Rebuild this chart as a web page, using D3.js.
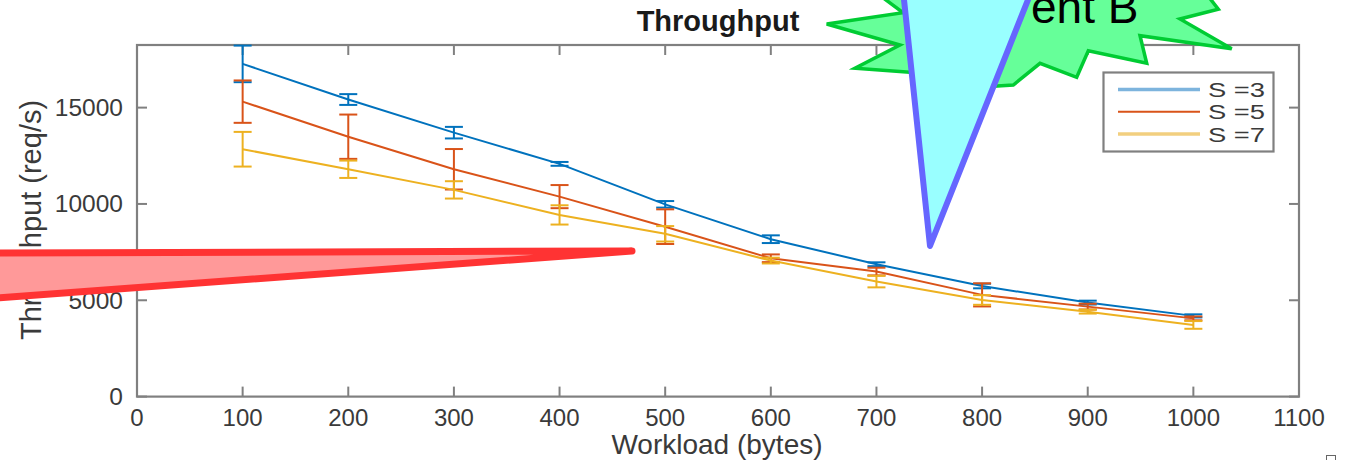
<!DOCTYPE html>
<html lang="en">
<head>
<meta charset="UTF-8">
<title>Throughput</title>
<script src="https://d3js.org/d3.v7.min.js"></script>
<style>
    body { margin: 0; background: #fff; }
    svg { display: block; font-family: "Liberation Sans", Arial, sans-serif; }
</style>
</head>
<body>
<div id="chart"></div>
<script>
    // data
    const workload = [100, 200, 300, 400, 500, 600, 700, 800, 900, 1000];
    const s3 = [17270, 15420, 13700, 12080, 9980, 8170, 6870, 5740, 4880, 4190];
    const s3err = [950, 280, 300, 100, 170, 200, 100, 120, 100, 80];
    const s5 = [15310, 13490, 11800, 10380, 8820, 7180, 6490, 5280, 4670, 4060];
    const s5err = [1100, 1150, 1050, 600, 900, 200, 200, 600, 150, 100];
    const s7 = [12840, 11800, 10730, 9430, 8450, 7060, 5970, 5015, 4410, 3720];
    const s7err = [900, 450, 450, 500, 400, 150, 300, 250, 100, 200];
    const seriesNames = ["S =3", "S =5", "S =7"];
    const xTicks = d3.range(0, 1101, 100);
    const yTicks = [0, 5000, 10000, 15000];

    const W = 1347, H = 460;
    const box = { left: 137, right: 1299, top: 45, bottom: 396.6 };

    const svg = d3.select("#chart").append("svg")
        .attr("width", W).attr("height", H);

    const x = d3.scaleLinear().domain([0, 1100]).range([box.left, box.right]);
    const y = d3.scaleLinear().domain([0, 18250]).range([box.bottom, box.top]);

    const axisColor = "#808080";
    const tickLen = 10;

    // axes box
    svg.append("rect")
        .attr("x", box.left).attr("y", box.top)
        .attr("width", box.right - box.left).attr("height", box.bottom - box.top)
        .attr("fill", "none").attr("stroke", axisColor).attr("stroke-width", 2.2);

    // bottom + top ticks
    const xt = svg.append("g");
    xTicks.forEach(t => {
        xt.append("line").attr("x1", x(t)).attr("x2", x(t))
            .attr("y1", box.bottom).attr("y2", box.bottom - tickLen)
            .attr("stroke", axisColor).attr("stroke-width", 2);
        xt.append("line").attr("x1", x(t)).attr("x2", x(t))
            .attr("y1", box.top).attr("y2", box.top + tickLen)
            .attr("stroke", axisColor).attr("stroke-width", 2);
        xt.append("text").attr("x", x(t)).attr("y", 426)
            .attr("text-anchor", "middle").attr("font-size", 24)
            .attr("fill", "#3a3a3a").text(t);
    });

    // left + right ticks
    const yt = svg.append("g");
    yTicks.forEach(t => {
        yt.append("line").attr("x1", box.left).attr("x2", box.left + tickLen)
            .attr("y1", y(t)).attr("y2", y(t))
            .attr("stroke", axisColor).attr("stroke-width", 2);
        yt.append("line").attr("x1", box.right).attr("x2", box.right - tickLen)
            .attr("y1", y(t)).attr("y2", y(t))
            .attr("stroke", axisColor).attr("stroke-width", 2);
        yt.append("text").attr("x", box.left - 14).attr("y", y(t) + 8.5)
            .attr("text-anchor", "end").attr("font-size", 24.5)
            .attr("fill", "#3a3a3a").text(t);
    });

    // title and axis labels
    svg.append("text").attr("x", 718).attr("y", 31)
        .attr("text-anchor", "middle").attr("font-size", 29).attr("font-weight", "bold")
        .attr("fill", "#1a1a1a").text("Throughput");
    svg.append("text").attr("x", 717).attr("y", 454)
        .attr("text-anchor", "middle").attr("font-size", 28)
        .attr("fill", "#3a3a3a").text("Workload (bytes)");
    svg.append("text")
        .attr("transform", "translate(41,220) rotate(-90)")
        .attr("text-anchor", "middle").attr("font-size", 29)
        .attr("fill", "#3a3a3a").text("Throughput (req/s)");

    // series
    const colors = ["#0072BD", "#D95319", "#EDB120"];
    const series = [
        { name: seriesNames[0], vals: s3, err: s3err, color: colors[0] },
        { name: seriesNames[1], vals: s5, err: s5err, color: colors[1] },
        { name: seriesNames[2], vals: s7, err: s7err, color: colors[2] }
    ];

    const line = d3.line().x(d => x(d[0])).y(d => y(d[1]));
    const capHalf = 9;

    series.forEach(s => {
        const g = svg.append("g");
        const pts = workload.map((w, i) => [w, s.vals[i]]);
        g.append("path").datum(pts)
            .attr("fill", "none").attr("stroke", s.color).attr("stroke-width", 2)
            .attr("d", line);
        workload.forEach((w, i) => {
            const hi = y(s.vals[i] + s.err[i]), lo = y(s.vals[i] - s.err[i]);
            g.append("line").attr("x1", x(w)).attr("x2", x(w)).attr("y1", hi).attr("y2", lo)
                .attr("stroke", s.color).attr("stroke-width", 2);
            [hi, lo].forEach(yy => {
                g.append("line").attr("x1", x(w) - capHalf).attr("x2", x(w) + capHalf)
                    .attr("y1", yy).attr("y2", yy)
                    .attr("stroke", s.color).attr("stroke-width", 2);
            });
        });
    });

    // legend
    const lg = svg.append("g");
    lg.append("rect").attr("x", 1103.5).attr("y", 72.5).attr("width", 170).attr("height", 79)
        .attr("fill", "#fff").attr("stroke", axisColor).attr("stroke-width", 2.2);
    const legendStroke = ["#7db4dd", "#D95319", "#f2cf7f"];
    const legendWidth = [3.5, 2, 3.5];
    series.forEach((s, i) => {
        const ly = 89.5 + i * 22.3;
        lg.append("line").attr("x1", 1118).attr("x2", 1200).attr("y1", ly).attr("y2", ly)
            .attr("stroke", legendStroke[i]).attr("stroke-width", legendWidth[i]);
        lg.append("text").attr("x", 1208).attr("y", ly + 7.5)
            .attr("font-size", 20).attr("fill", "#3a3a3a")
            .attr("textLength", 57).attr("lengthAdjust", "spacingAndGlyphs")
            .text(s.name);
    });

    // annotation shapes drawn over the chart
    const wedge = [[632, 251], [-200, 253.5], [-200, 312.5]];
    svg.append("polygon")
        .attr("points", wedge.map(p => p.join(",")).join(" "))
        .attr("fill", "#FF9999").attr("stroke", "#FF3333").attr("stroke-width", 7)
        .attr("stroke-linejoin", "round");

    const burst = [
        [870, -12], [903, 12.7], [826.7, 24], [900, 45], [855, 68.3], [920, 73],
        [965, 88], [1013.3, 85], [1040, 63.3], [1076.7, 77.3], [1088.3, 50.7],
        [1146.7, 63.3], [1140, 35.7], [1231.7, 48.7], [1180, 19], [1218.3, 9.3],
        [1205, -8], [1150, -40], [1000, -45]
    ];
    svg.append("polygon")
        .attr("points", burst.map(p => p.join(",")).join(" "))
        .attr("fill", "#66FF99").attr("stroke", "#00CC33").attr("stroke-width", 3.5)
        .attr("stroke-linejoin", "miter");
    svg.append("text").attr("x", 1031).attr("y", 22.7)
        .attr("font-size", 46)
        .attr("fill", "#000").text("ent B");

    const tri = [[897.7, -60], [1051.8, -60], [930, 246]];
    svg.append("polygon")
        .attr("points", tri.map(p => p.join(",")).join(" "))
        .attr("fill", "#99FFFF").attr("stroke", "#6666FF").attr("stroke-width", 6)
        .attr("stroke-linejoin", "round");

    // small marker in the lower right corner
    svg.append("rect").attr("x", 1326.5).attr("y", 455.5).attr("width", 9).attr("height", 9)
        .attr("fill", "none").attr("stroke", "#666").attr("stroke-width", 1);
</script>
</body>
</html>
